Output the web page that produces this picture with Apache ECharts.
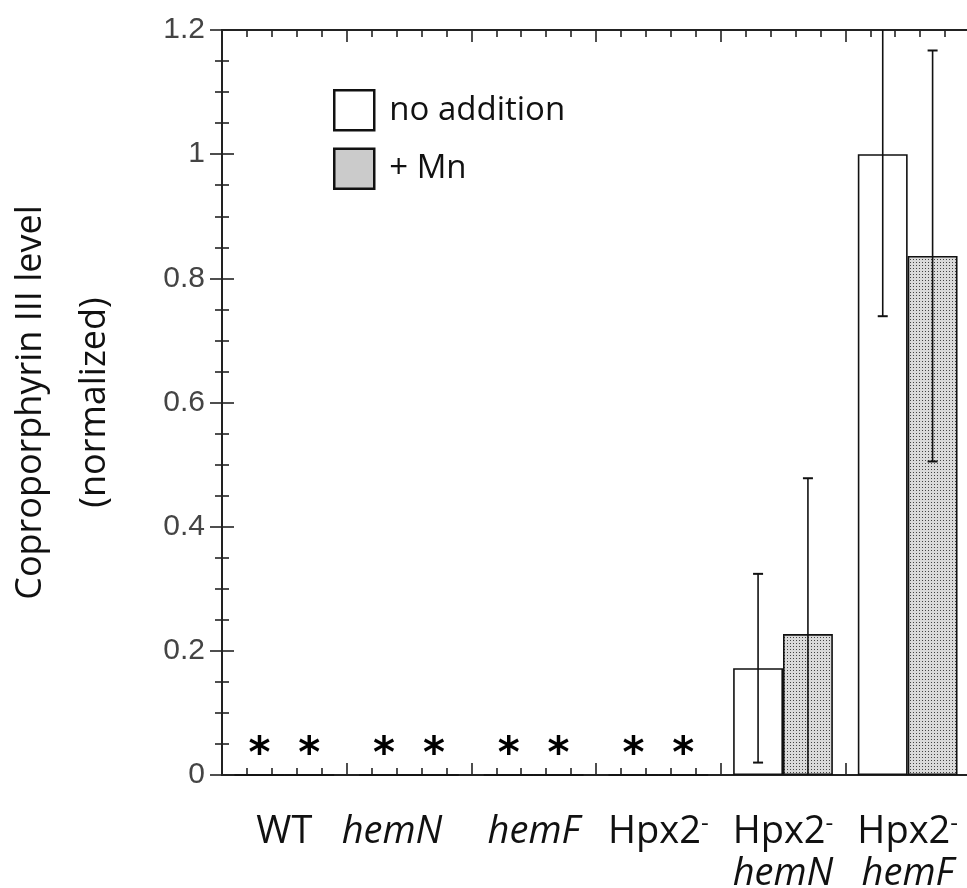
<!DOCTYPE html>
<html>
<head>
<meta charset="UTF-8">
<title>Coproporphyrin III</title>
<script src="https://cdn.jsdelivr.net/npm/echarts@6/dist/echarts.min.js"></script>
<style>
  html, body { margin: 0; padding: 0; background: #fff; }
  #box { width: 967px; height: 888px; }
</style>
</head>
<body>
<div id="box"></div>
<script>
// data
const categories = ['WT', 'hemN', 'hemF', 'Hpx2', 'Hpx2 hemN', 'Hpx2 hemF'];
const categoryLabels = ['WT', '{n|hemN}', '{i|hemF}', 'Hpx2{s|-}', 'Hpx2{s|-}\n{i|hemN}', 'Hpx2{s|-}\n{i|hemF}'];
const noAddition = [0, 0, 0, 0, 0.172, 1.0];
const noAdditionErr = [0, 0, 0, 0, 0.152, 0.261];
const plusMn = [0, 0, 0, 0, 0.227, 0.836];
const plusMnErr = [0, 0, 0, 0, 0.251, 0.331];
// * = not detected
const notDetected = [true, true, true, true, false, false];
const yTicks = [0, 0.2, 0.4, 0.6, 0.8, 1, 1.2];

// stippled fill for the + Mn bars
const dots = document.createElement('canvas');
dots.width = 3; dots.height = 3;
const ctx = dots.getContext('2d');
ctx.fillStyle = '#dadada';
ctx.fillRect(0, 0, 3, 3);
ctx.fillStyle = '#444';
ctx.fillRect(1, 1, 1, 1);

var myChart = echarts.init(document.getElementById('box'));

// error bar + asterisk renderer; side = -1 for left bar, +1 for right bar
function errRenderer(values, errs, side) {
    return function (params, api) {
        const i = api.value(0);
        const bw = api.size([1, 0])[0] * 0.4;
        const cx = api.coord([i, 0])[0] + side * bw / 2;
        if (notDetected[i]) {
            const p = api.coord([i, 0.05]);
            return {
                type: 'text',
                style: {
                    x: cx, y: p[1] + 12, text: '*',
                    font: 'bold 42px "DejaVu Sans"',
                    fill: '#000', align: 'center', verticalAlign: 'middle'
                }
            };
        }
        const v = values[i], e = errs[i];
        const top = api.coord([i, v + e])[1];
        const bot = api.coord([i, Math.max(v - e, 0)])[1];
        const children = [{
            type: 'line',
            shape: { x1: cx, y1: top, x2: cx, y2: bot },
            style: { stroke: '#111', lineWidth: 1.6 }
        }, {
            type: 'line',
            shape: { x1: cx - 5, y1: top, x2: cx + 5, y2: top },
            style: { stroke: '#111', lineWidth: 2 }
        }];
        if (v - e > 0) {
            children.push({
                type: 'line',
                shape: { x1: cx - 5, y1: bot, x2: cx + 5, y2: bot },
                style: { stroke: '#111', lineWidth: 2 }
            });
        }
        return { type: 'group', children: children };
    };
}

const tickAxis = {
    type: 'value', min: 0, max: 6, interval: 1,
    axisLabel: { show: false },
    splitLine: { show: false },
    axisTick: { show: true, inside: true, length: 12, lineStyle: { color: '#222', width: 1.6 } },
    minorTick: { show: true, splitNumber: 5, length: 7, lineStyle: { color: '#222', width: 1.6 } }
};

var option = {
    animation: false,
    grid: { left: 222, top: 30, right: -3, bottom: 113, containLabel: false, outerBoundsMode: 'none' },
    legend: {
        orient: 'vertical',
        left: 328, top: 84,
        itemWidth: 40, itemHeight: 40, itemGap: 16,
        icon: 'rect',
        selectedMode: false,
        textStyle: { fontFamily: 'Open Sans', fontSize: 33, color: '#111', padding: [0, 0, 0, 10] },
        data: [
            { name: 'no addition', itemStyle: { color: '#fff', borderColor: '#111', borderWidth: 2.5 } },
            { name: '+ Mn', itemStyle: { color: '#cbcbcb', borderColor: '#111', borderWidth: 2.5 } }
        ]
    },
    xAxis: [{
        type: 'category',
        data: categories,
        position: 'bottom',
        axisLine: { show: true, lineStyle: { color: '#222', width: 2 } },
        axisTick: { show: false },
        axisLabel: {
            interval: 0,
            margin: 36,
            fontFamily: 'Open Sans',
            fontSize: 38,
            color: '#111',
            lineHeight: 42,
            formatter: function (v, i) { return categoryLabels[i]; },
            rich: {
                i: { fontFamily: 'Open Sans', fontStyle: 'italic', fontSize: 38, color: '#111', lineHeight: 42 },
                n: { fontFamily: 'Open Sans', fontStyle: 'italic', fontSize: 38, color: '#111', lineHeight: 42, padding: [0, 34, 0, 0] },
                s: { fontFamily: 'Open Sans', fontSize: 24, color: '#111', lineHeight: 42, padding: [0, 0, 16, 0] }
            }
        }
    },
    Object.assign({}, tickAxis, { position: 'bottom', axisLine: { show: false } }),
    Object.assign({}, tickAxis, { position: 'top', axisLine: { show: true, lineStyle: { color: '#222', width: 2 } } })
    ],
    yAxis: [{
        type: 'value',
        min: yTicks[0], max: yTicks[yTicks.length - 1], interval: 0.2,
        position: 'left',
        name: 'Coproporphyrin III level\n(normalized)',
        nameLocation: 'middle',
        nameRotate: 90,
        nameGap: 95,
        nameTextStyle: { fontFamily: 'Open Sans', fontSize: 36, color: '#111', lineHeight: 64 },
        axisLine: { show: true, lineStyle: { color: '#222', width: 2 } },
        axisTick: { show: true, inside: true, length: 12, lineStyle: { color: '#222', width: 1.6 } },
        minorTick: { show: true, splitNumber: 4, length: 7, lineStyle: { color: '#222', width: 1.6 } },
        splitLine: { show: false },
        axisLabel: {
            margin: 17,
            fontFamily: 'Liberation Sans',
            fontSize: 30,
            color: '#444',
            formatter: function (v) { return String(+v.toFixed(1)); }
        }
    }, {
        type: 'value',
        min: yTicks[0], max: yTicks[yTicks.length - 1], interval: 0.2,
        position: 'right',
        axisLine: { show: true, lineStyle: { color: '#222', width: 2 } },
        axisTick: { show: true, inside: true, length: 12, lineStyle: { color: '#222', width: 1.6 } },
        minorTick: { show: true, splitNumber: 4, length: 7, lineStyle: { color: '#222', width: 1.6 } },
        splitLine: { show: false },
        axisLabel: { show: false }
    }],
    series: [{
        name: 'no addition',
        type: 'bar',
        data: noAddition,
        barGap: '0%',
        barCategoryGap: '20%',
        itemStyle: { color: '#fff', borderColor: '#111', borderWidth: 1.6 },
        z: 2
    }, {
        name: '+ Mn',
        type: 'bar',
        data: plusMn,
        barGap: '0%',
        barCategoryGap: '20%',
        itemStyle: { color: { image: dots, repeat: 'repeat' }, borderColor: '#111', borderWidth: 1.6 },
        z: 2
    }, {
        type: 'custom',
        clip: true,
        z: 3,
        data: categories.map(function (c, i) { return [i]; }),
        renderItem: errRenderer(noAddition, noAdditionErr, -1)
    }, {
        type: 'custom',
        clip: true,
        z: 3,
        data: categories.map(function (c, i) { return [i]; }),
        renderItem: errRenderer(plusMn, plusMnErr, 1)
    }]
};
myChart.setOption(option);
</script>
</body>
</html>
